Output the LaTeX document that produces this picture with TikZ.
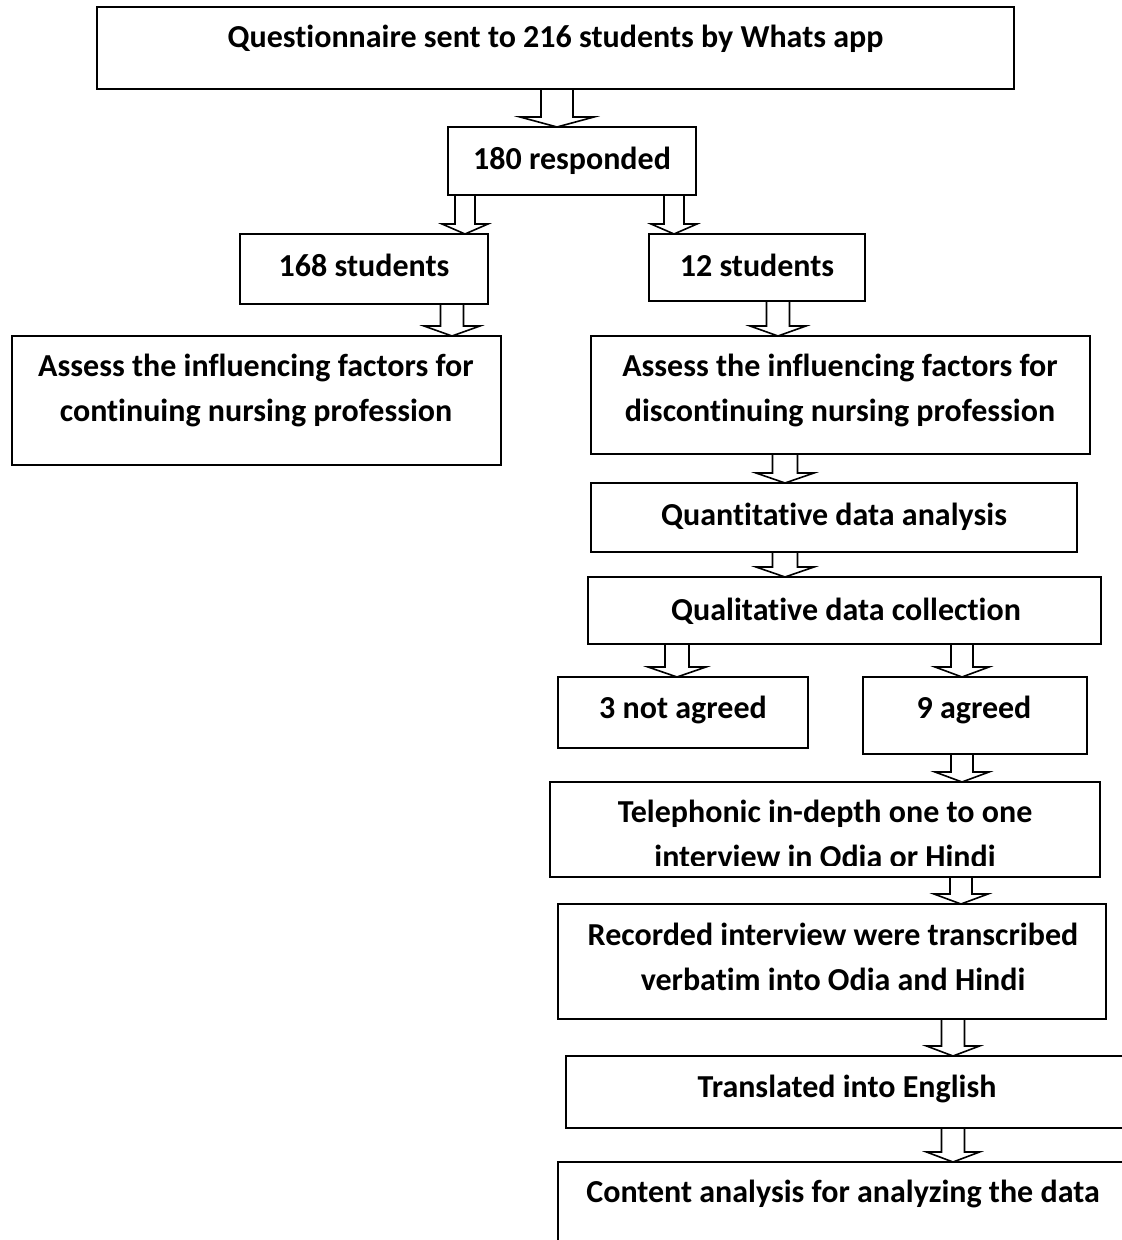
\documentclass[tikz,border=0pt]{standalone}
\usepackage{fontspec}
\setmainfont{Carlito}[Ligatures=CommonOff]
\usetikzlibrary{calc}
\tikzset{
  box/.style={draw, line width=1pt, rectangle, inner sep=0pt, outer sep=0pt},
  txt/.style={font=\bfseries\fontsize{16}{22.5}\selectfont, align=center, inner sep=0pt, anchor=base},
  barrow/.style={draw, line width=0.8pt, line join=miter},
}
% box from (x1,y1) to (x2,y2) in pixel units, y downwards
\newcommand{\boxat}[5]{%
  \node[box, minimum width={(#4-#2)*0.5pt}, minimum height={(#5-#3)*0.5pt}] (#1) at ({(#2+#4)/2},{(#3+#5)/2}) {};}
% block arrow: source, target, x centre, half shaft, half head
\newcommand{\blockarrow}[5]{%
  \draw[barrow] let \p1=(#1.south), \p2=(#2.north) in
    ({(#3-#4)*0.5pt},\y1) -- ({(#3-#4)*0.5pt},\y2+5pt) -- ({(#3-#5)*0.5pt},\y2+5pt)
    -- ({#3*0.5pt},\y2) -- ({(#3+#5)*0.5pt},\y2+5pt) -- ({(#3+#4)*0.5pt},\y2+5pt)
    -- ({(#3+#4)*0.5pt},\y1);}
\begin{document}
\begin{tikzpicture}[x=0.5pt, y=-0.5pt]
\useasboundingbox (0,0) rectangle (1122,1240);
\clip (0,0) rectangle (1122,1240);
% boxes
\boxat{top}{97}{7}{1014}{89}
\boxat{resp}{448}{127}{696}{195}
\boxat{sa}{240}{234}{488}{304}
\boxat{sb}{649}{234}{865}{301}
\boxat{assL}{12}{336}{501}{465}
\boxat{assR}{591}{336}{1090}{454}
\boxat{quant}{591}{483}{1077}{552}
\boxat{qual}{588}{577}{1101}{644}
\boxat{nota}{558}{677}{808}{748}
\boxat{agr}{863}{677}{1087}{754}
\boxat{tel}{550}{782}{1100}{877}
\boxat{rec}{558}{904}{1106}{1019}
\boxat{trans}{566}{1056}{1200}{1128}
\boxat{cont}{558}{1162}{1200}{1320}
% texts (two-line nodes: base = baseline of last line)
\node[txt] (ttop) at (555.5,48) {Questionnaire sent to 216 students by Whats app};
\node[txt] (tresp) at (572,170) {180 responded};
\node[txt] (tsa) at (364,277) {168 students};
\node[txt] (tsb) at (757,277) {12 students};
\node[txt] (tassL) at (256,422) {Assess the influencing factors for\\continuing nursing profession};
\node[txt] (tassR) at (840,422) {Assess the influencing factors for\\discontinuing nursing profession};
\node[txt] (tquant) at (834,525) {Quantitative data analysis};
\node[txt] (tqual) at (846,620) {Qualitative data collection};
\node[txt] (tnota) at (683,718) {3 not agreed};
\node[txt] (tagr) at (974,718) {9 agreed};
\begin{scope}
\clip (550,782) rectangle (1100,865);
\node[txt] (ttel) at (825,867) {Telephonic in-depth one to one\\interview in Odia or Hindi};
\end{scope}
\node[txt] (trec) at (833,990) {Recorded interview were transcribed\\verbatim into Odia and Hindi};
\node[txt] (ttrans) at (847,1097) {Translated into English};
\node[txt] (tcont) at (843,1202) {Content analysis for analyzing the data};
% arrows
\blockarrow{top}{resp}{557}{16}{37}
\blockarrow{resp}{sa}{465}{10}{23}
\blockarrow{resp}{sb}{674}{10}{23}
\blockarrow{sa}{assL}{452}{11.5}{28}
\blockarrow{sb}{assR}{778}{11.5}{28}
\blockarrow{assR}{quant}{785}{12.5}{29}
\blockarrow{quant}{qual}{785}{12.5}{29}
\blockarrow{qual}{nota}{677}{12}{29}
\blockarrow{qual}{agr}{962}{11}{27}
\blockarrow{agr}{tel}{962}{11}{27}
\blockarrow{tel}{rec}{961}{11}{27}
\blockarrow{rec}{trans}{953}{11.5}{26.5}
\blockarrow{trans}{cont}{953}{11.5}{26.5}
\end{tikzpicture}
\end{document}
